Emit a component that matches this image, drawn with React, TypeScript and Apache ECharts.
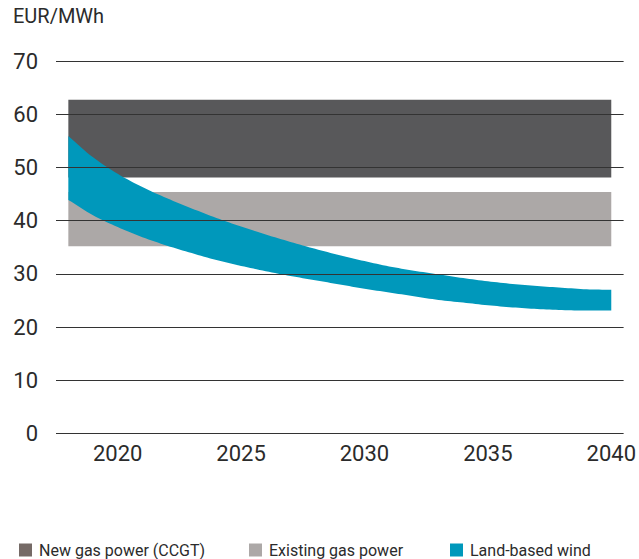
import React, { useEffect, useRef } from "react";
import * as echarts from "echarts";

const years = [2018, 2019, 2020, 2021, 2022, 2023, 2024, 2025, 2026, 2027, 2028, 2029, 2030, 2031, 2032, 2033, 2034, 2035, 2036, 2037, 2038, 2039, 2040];
const windHigh = [55.9, 51.9, 48.8, 46.3, 44.2, 42.3, 40.5, 38.9, 37.4, 36.0, 34.7, 33.5, 32.4, 31.4, 30.6, 29.9, 29.2, 28.6, 28.1, 27.7, 27.4, 27.1, 27.0];
const windLow = [43.9, 41.0, 38.8, 36.9, 35.3, 33.9, 32.6, 31.5, 30.5, 29.6, 28.8, 28.0, 27.2, 26.5, 25.8, 25.1, 24.6, 24.1, 23.7, 23.4, 23.2, 23.1, 23.1];
const gasYears = [2018, 2040];
const newGasRange = [48.1, 62.7];
const existingGasRange = [35.2, 45.4];
const xTickLabels = [2020, 2025, 2030, 2035, 2040];
const yTicks = [0, 10, 20, 30, 40, 50, 60, 70];
const seriesNames = ["New gas power (CCGT)", "Existing gas power", "Land-based wind"];
const seriesColors = ["#58585a", "#aca8a7", "#0098bb"];
const legendColors = ["#756a66", "#aca8a7", "#0098bb"];

const FONT = "Roboto, 'Liberation Sans', sans-serif";

// monotone cubic (Fritsch–Carlson) sampling of pixel points, for drawing a smooth edge
function smoothEdge(pts: number[][], steps = 8): number[][] {
  const n = pts.length;
  if (n < 3) return pts;
  const dx: number[] = [], m: number[] = [];
  for (let i = 0; i < n - 1; i++) {
    dx.push(pts[i + 1][0] - pts[i][0]);
    m.push((pts[i + 1][1] - pts[i][1]) / dx[i]);
  }
  const t: number[] = [m[0]];
  for (let i = 1; i < n - 1; i++) {
    if (m[i - 1] * m[i] <= 0) t.push(0);
    else t.push((2 * m[i - 1] * m[i]) / (m[i - 1] + m[i]));
  }
  t.push(m[n - 2]);
  const out: number[][] = [];
  for (let i = 0; i < n - 1; i++) {
    const h = dx[i];
    for (let s = 0; s < steps; s++) {
      const u = s / steps;
      const h00 = 2 * u * u * u - 3 * u * u + 1;
      const h10 = u * u * u - 2 * u * u + u;
      const h01 = -2 * u * u * u + 3 * u * u;
      const h11 = u * u * u - u * u;
      out.push([
        pts[i][0] + u * h,
        h00 * pts[i][1] + h10 * h * t[i] + h01 * pts[i + 1][1] + h11 * h * t[i + 1],
      ]);
    }
  }
  out.push(pts[n - 1]);
  return out;
}

export default function App() {
  const ref = useRef<HTMLDivElement>(null);
  useEffect(() => {
    if (!ref.current) return;
    const chart = echarts.init(ref.current, null, { renderer: "svg" });

    const rectSeries = (name: string, range: number[], color: string) => ({
      name,
      type: "custom",
      silent: true,
      itemStyle: { color },
      data: [[gasYears[0], range[0], gasYears[1], range[1]]],
      encode: { x: [0, 2], y: [1, 3] },
      renderItem: (params: any, api: any) => {
        const p0 = api.coord([api.value(0), api.value(3)]);
        const p1 = api.coord([api.value(2), api.value(1)]);
        return {
          type: "rect",
          shape: { x: p0[0], y: p0[1], width: p1[0] - p0[0], height: p1[1] - p0[1] },
          style: { fill: color },
        };
      },
    });

    const windData = years.map((y, i) => [y, windLow[i], windHigh[i]]);

    const option: any = {
      animation: false,
      textStyle: { fontFamily: FONT },
      grid: { left: 56, right: 11, top: 61, bottom: 125.5 },
      xAxis: {
        type: "value",
        min: 2017.5,
        max: 2040.5,
        axisLine: { show: false },
        axisTick: { show: false },
        splitLine: { show: false },
        axisLabel: {
          customValues: xTickLabels,
          fontSize: 22,
          color: "#2b2b2b",
          margin: 9,
          fontFamily: FONT,
          formatter: (v: number) => String(v),
        },
      },
      yAxis: {
        type: "value",
        min: 0,
        max: 70,
        interval: 10,
        axisLine: { show: false },
        axisTick: { show: false },
        splitLine: { show: false },
        axisLabel: { fontSize: 22, color: "#2b2b2b", margin: 18, fontFamily: FONT },
      },
      graphic: [
        {
          type: "text",
          left: 13,
          top: 6,
          style: { text: "EUR/MWh", fontSize: 20, fill: "#2b2b2b", fontFamily: FONT },
        },
      ],
      legend: [0, 1, 2].map((i) => ({
        left: [14, 244, 445][i],
        top: 536,
        itemWidth: 13,
        itemHeight: 13,
        icon: "rect",
        selectedMode: false,
        textStyle: { fontSize: 16, lineHeight: 18, color: "#2b2b2b", fontFamily: FONT, padding: [0, 0, 0, 2] },
        data: [{ name: seriesNames[i], itemStyle: { color: legendColors[i] } }],
      })),
      series: [
        rectSeries(seriesNames[0], newGasRange, seriesColors[0]),
        rectSeries(seriesNames[1], existingGasRange, seriesColors[1]),
        {
          name: seriesNames[2],
          type: "custom",
          silent: true,
          itemStyle: { color: seriesColors[2] },
          data: windData,
          encode: { x: 0, y: [1, 2] },
          renderItem: (params: any, api: any) => {
            if (params.dataIndex !== 0) return null;
            const top = smoothEdge(windData.map((d) => api.coord([d[0], d[2]])));
            const bottom = smoothEdge(windData.map((d) => api.coord([d[0], d[1]]))).reverse();
            return {
              type: "polygon",
              shape: { points: top.concat(bottom) },
              style: { fill: seriesColors[2] },
            };
          },
          markLine: {
            silent: true,
            symbol: ["none", "none"],
            label: { show: false },
            lineStyle: { color: "#333333", type: "solid", width: 1.2, opacity: 1 },
            data: yTicks.map((v) => ({ yAxis: v })),
          },
        },
      ],
    };
    chart.setOption(option);
    return () => chart.dispose();
  }, []);
  return <div ref={ref} style={{ width: 639, height: 559, position: "absolute", left: 0, top: 0 }} />;
}
